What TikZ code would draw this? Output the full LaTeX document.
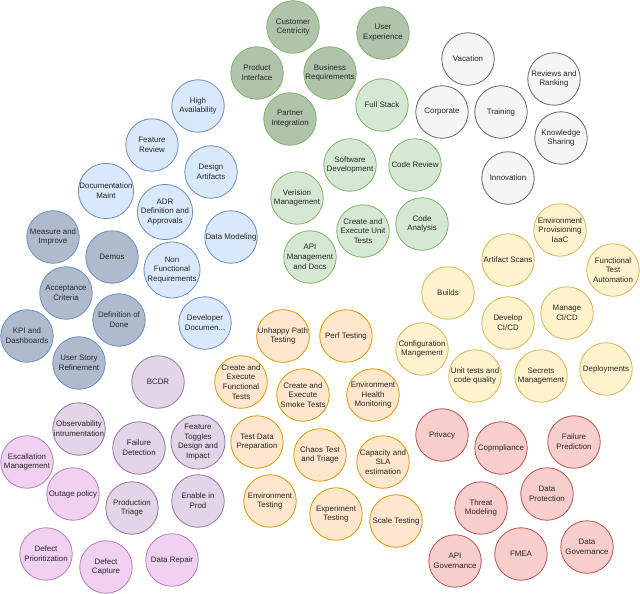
\documentclass[tikz,border=0pt]{standalone}
\usepackage{fontspec}
\setmainfont{Liberation Sans}
\definecolor{dgfill}{HTML}{B0C4AB}
\definecolor{lgfill}{HTML}{D5E8D4}
\definecolor{gstroke}{HTML}{82B366}
\definecolor{bfill}{HTML}{DAE8FC}
\definecolor{bstroke}{HTML}{6C8EBF}
\definecolor{sfill}{HTML}{AFBBCC}
\definecolor{grfill}{HTML}{F5F5F5}
\definecolor{grstroke}{HTML}{666666}
\definecolor{yfill}{HTML}{FFF2CC}
\definecolor{ystroke}{HTML}{D6B656}
\definecolor{ofill}{HTML}{FFE6CC}
\definecolor{ostroke}{HTML}{D79B00}
\definecolor{rfill}{HTML}{F8CECC}
\definecolor{rstroke}{HTML}{B85450}
\definecolor{pfill}{HTML}{E1D5E7}
\definecolor{pstroke}{HTML}{9673A6}
\definecolor{kfill}{HTML}{F1D1F1}
\definecolor{kstroke}{HTML}{B37FB8}
\definecolor{txt}{HTML}{262626}
\tikzset{
  bub/.style={circle, minimum size=52.5pt, inner sep=0pt, align=center, line width=0.8pt,
    text=txt, font=\fontsize{7.9}{9.8}\selectfont},
  dg/.style={bub, fill=dgfill, draw=gstroke},
  lg/.style={bub, fill=lgfill, draw=gstroke},
  bl/.style={bub, fill=bfill, draw=bstroke},
  sl/.style={bub, fill=sfill, draw=bstroke},
  gr/.style={bub, fill=grfill, draw=grstroke},
  ye/.style={bub, fill=yfill, draw=ystroke},
  orr/.style={bub, fill=ofill, draw=ostroke},
  rd/.style={bub, fill=rfill, draw=rstroke},
  pu/.style={bub, fill=pfill, draw=pstroke},
  pk/.style={bub, fill=kfill, draw=kstroke},
}
\begin{document}
\begin{tikzpicture}[x=1pt, y=-1pt]
\useasboundingbox (0,0) rectangle (640,594);
% dark green
\node[dg] (cc) at (293,27) {Customer\\Centricity};
\node[dg] (ux) at (383,33) {User\\Experience};
\node[dg] (pi) at (257,73) {Product\\Interface};
\node[dg] (br) at (330,73) {Business\\Requirements};
\node[dg] (pin) at (290,119) {Partner\\Integration};
% light green
\node[lg] (fs) at (382,105) {Full Stack};
\node[lg] (sd) at (350,165) {Software\\Development};
\node[lg] (cr) at (415,165) {Code Review};
\node[lg] (vm) at (297,198) {Verision\\Management};
\node[lg] (ceut) at (363,231) {Create and\\Execute Unit\\Tests};
\node[lg] (ca) at (422,224) {Code\\Analysis};
\node[lg] (api) at (310,257) {API\\Management\\and Docs};
% grey
\node[gr] (vac) at (468,59) {Vacation};
\node[gr] (corp) at (442,112) {Corporate};
\node[gr] (tr) at (501,112) {Training};
\node[gr] (rr) at (554,79) {Reviews and\\Ranking};
\node[gr] (ks) at (561,138) {Knowledge\\Sharing};
\node[gr] (inn) at (508,178) {Innovation};
% blue
\node[bl] (ha) at (198,106) {High\\Availability};
\node[bl] (fr) at (152,145) {Feature\\Review};
\node[bl] (da) at (211,172) {Design\\Artifacts};
\node[bl] (dm) at (106,191) {Documentation\\Maint};
\node[bl] (adr) at (165,212) {ADR\\Definition and\\Approvals};
\node[bl] (dmod) at (231,237) {Data Modeling};
\node[bl] (nfr) at (172,270) {Non\\Functional\\Requirements};
\node[bl] (dd) at (205,323) {Developer\\Documen...};
% slate
\node[sl] (mi) at (53,237) {Measure and\\Improve};
\node[sl] (demo) at (112,257) {Demos};
\node[sl] (ac) at (66,293) {Acceptance\\Criteria};
\node[sl] (dod) at (119,320) {Definition of\\Done};
\node[sl] (kpi) at (27,336) {KPI and\\Dashboards};
\node[sl] (usr) at (79,363) {User Story\\Refinement};
% yellow
\node[ye] (epi) at (560,230) {Environment\\Provisioning\\IaaC};
\node[ye] (as) at (508,260) {Artifact Scans};
\node[ye] (fta) at (613,270) {Functional\\Test\\Automation};
\node[ye] (bld) at (448,293) {Builds};
\node[ye] (dcicd) at (508,323) {Develop\\CI/CD};
\node[ye] (mcicd) at (567,313) {Manage\\CI/CD};
\node[ye] (cm) at (422,349) {Configuration\\Mangement};
\node[ye] (utq) at (475,376) {Unit tests and\\code quality};
\node[ye] (sm) at (541,376) {Secrets\\Management};
\node[ye] (dep) at (606,369) {Deployments};
% orange
\node[orr] (uph) at (283,336) {Unhappy Path\\Testing};
\node[orr] (perf) at (346,336) {Perf Testing};
\node[orr] (cef) at (241,382) {Create and\\Execute\\Functional\\Tests};
\node[orr] (ces) at (303,395) {Create and\\Execute\\Smoke Tests};
\node[orr] (ehm) at (373,395) {Environment\\Health\\Monitoring};
\node[orr] (tdp) at (257,442) {Test Data\\Preparation};
\node[orr] (ctt) at (320,455) {Chaos Test\\and Triage};
\node[orr] (csla) at (383,462) {Capacity and\\SLA\\estimation};
\node[orr] (et) at (270,501) {Environment\\Testing};
\node[orr] (ext) at (336,514) {Experiment\\Testing};
\node[orr] (sct) at (396,521) {Scale Testing};
% red
\node[rd] (prv) at (442,435) {Privacy};
\node[rd] (cmp) at (501,448) {Copmpliance};
\node[rd] (fp) at (574,442) {Failure\\Prediction};
\node[rd] (dpr) at (547,494) {Data\\Protection};
\node[rd] (tm) at (481,508) {Threat\\Modeling};
\node[rd] (apig) at (455,561) {API\\Governance};
\node[rd] (fmea) at (521,554) {FMEA};
\node[rd] (dgov) at (587,547) {Data\\Governance};
% purple
\node[pu] (bcdr) at (158,382) {BCDR};
\node[pu] (obs) at (79,429) {Observability\\intrumentation};
\node[pu] (fd) at (139,448) {Failure\\Detection};
\node[pu] (ftd) at (198,442) {Feature\\Toggles\\Design and\\Impact};
\node[pu] (pt) at (132,508) {Production\\Triage};
\node[pu] (eip) at (198,501) {Enable in\\Prod};
% pink
\node[pk] (esc) at (27,462) {Escallation\\Management};
\node[pk] (op) at (73,494) {Outage policy};
\node[pk] (dpz) at (46,554) {Defect\\Prioritization};
\node[pk] (dc) at (106,567) {Defect\\Capture};
\node[pk] (drp) at (172,560) {Data Repair};
\end{tikzpicture}
\end{document}
